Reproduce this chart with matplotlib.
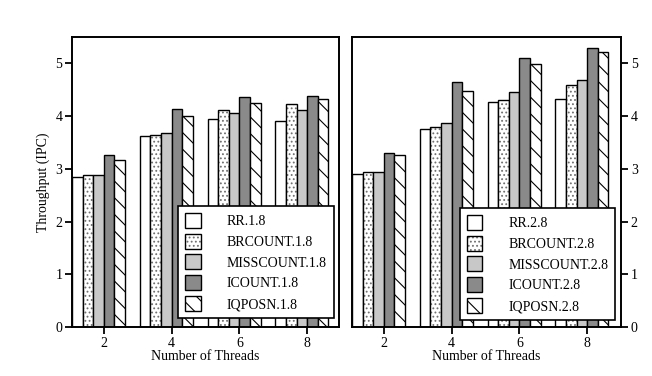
import matplotlib.pyplot as plt
import numpy as np

plt.rcParams['font.family'] = ['Liberation Serif', 'DejaVu Serif']
plt.rcParams['hatch.linewidth'] = 0.8

threads = ['2', '4', '6', '8']
policies = ['RR', 'BRCOUNT', 'MISSCOUNT', 'ICOUNT', 'IQPOSN']

# throughput, one list per policy, values for 2/4/6/8 threads
ipc_18 = {
    'RR': [2.85, 3.62, 3.95, 3.90],
    'BRCOUNT': [2.88, 3.65, 4.11, 4.22],
    'MISSCOUNT': [2.88, 3.67, 4.05, 4.11],
    'ICOUNT': [3.26, 4.13, 4.36, 4.38],
    'IQPOSN': [3.16, 4.00, 4.25, 4.32],
}
ipc_28 = {
    'RR': [2.91, 3.76, 4.26, 4.33],
    'BRCOUNT': [2.94, 3.79, 4.31, 4.59],
    'MISSCOUNT': [2.94, 3.87, 4.45, 4.69],
    'ICOUNT': [3.30, 4.64, 5.10, 5.30],
    'IQPOSN': [3.27, 4.47, 4.99, 5.22],
}

# fill colour, hatch, hatch colour
styles = {
    'RR': ('white', None, 'black'),
    'BRCOUNT': ('white', '....', '#707070'),
    'MISSCOUNT': ('#c8c8c8', None, 'black'),
    'ICOUNT': ('#8a8a8a', None, 'black'),
    'IQPOSN': ('white', '\\\\', 'black'),
}

fig = plt.figure(figsize=(6.52, 3.76), dpi=100)
ax1 = fig.add_axes([0.1104, 0.1303, 0.4095, 0.7713])
ax2 = fig.add_axes([0.5399, 0.1303, 0.4126, 0.7713])

w = 0.156
x = np.arange(len(threads))


def draw(ax, data, suffix, right, anchor):
    handles, labels = [], []
    for i, p in enumerate(policies):
        fc, hatch, hc = styles[p]
        pos = x + (i - 3) * w
        b1 = ax.bar(pos, data[p], w, align='edge', color=fc, hatch=hatch,
                    edgecolor=hc, linewidth=0)
        b2 = ax.bar(pos, data[p], w, align='edge', fill=False,
                    edgecolor='black', linewidth=1.0)
        handles.append((b1[0], b2[0]))
        labels.append(f'{p}.{suffix}')
    ax.set_ylim(0, 5.5)
    ax.set_xlim(-0.47, 3.47 if not right else 3.5)
    ax.set_xticks(x)
    ax.set_xticklabels(threads)
    ax.set_yticks(range(6))
    ax.set_xlabel('Number of Threads', fontsize=10, labelpad=0)
    for s in ax.spines.values():
        s.set_linewidth(1.4)
    ax.tick_params(axis='both', direction='out', length=5, width=1.3,
                   labelsize=10, pad=2)
    ax.tick_params(axis='x', top=False)
    if right:
        ax.yaxis.tick_right()
    else:
        ax.yaxis.tick_left()
        ax.set_ylabel('Throughput (IPC)', fontsize=10, labelpad=4)
    leg = ax.legend(handles, labels, loc='lower right', bbox_to_anchor=anchor,
                    fontsize=10, fancybox=False, framealpha=1,
                    edgecolor='black', handlelength=1.1, handleheight=1.3,
                    handletextpad=1.9, labelspacing=0.4, borderpad=0.5,
                    borderaxespad=0)
    leg.get_frame().set_linewidth(1.2)


draw(ax1, ipc_18, '1.8', False, (0.981, 0.031))
draw(ax2, ipc_28, '2.8', True, (0.978, 0.024))

fig.savefig('out.png', dpi=100)
